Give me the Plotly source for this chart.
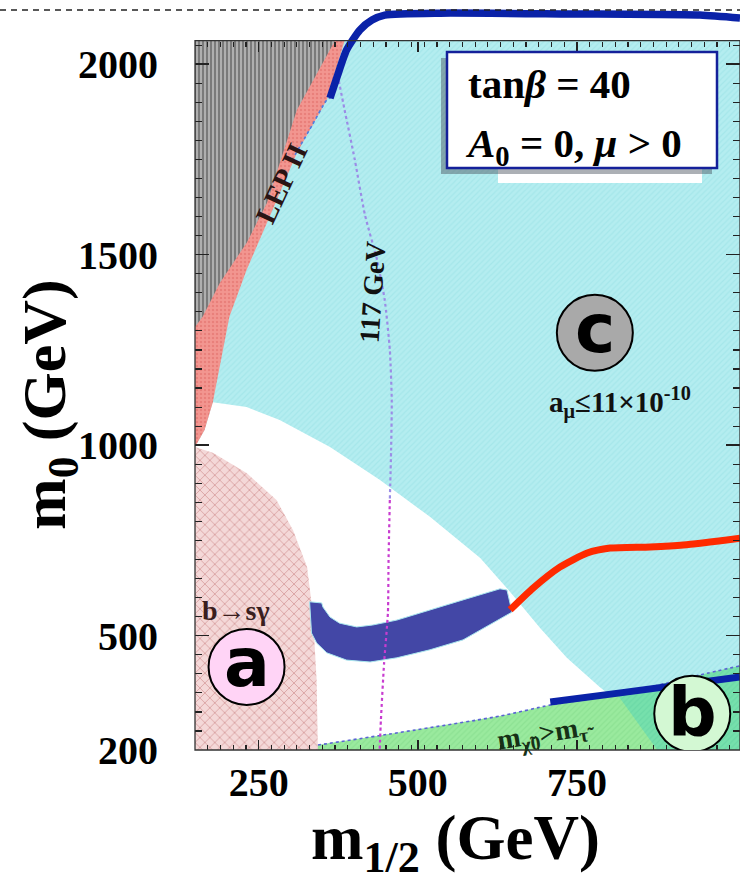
import plotly.graph_objects as go

# ---------------- data (m1/2 , m0 in GeV) ----------------
frame_m12 = [150, 1006]
frame_m0 = [200, 2062]

lep_edge_m12 = [385, 357, 310, 267, 231, 204, 184, 178, 165, 150]
lep_edge_m0 = [2062, 1906, 1767, 1599, 1460, 1337, 1171, 1113, 1040, 995]

ewsb_edge_m12 = [370, 310, 263, 231, 189, 162, 150]
ewsb_edge_m0 = [2062, 1880, 1636, 1531, 1426, 1337, 1310]

amu_edge_m12 = [178, 231, 283, 362, 440, 519, 598, 649, 692, 734, 786, 802]
amu_edge_m0 = [1113, 1100, 1066, 995, 909, 812, 704, 607, 520, 442, 365, 344]

stau_edge_m12 = [343, 456, 629, 708, 818, 943, 1006]
stau_edge_m0 = [213, 242, 289, 318, 347, 397, 421]

overlap_edge_m12 = [813, 876]
overlap_edge_m0 = [346, 200]

bsg_edge_m12 = [150, 178, 231, 278, 304, 326, 335, 341, 343]
bsg_edge_m0 = [995, 980, 927, 856, 777, 680, 560, 384, 200]

wmap_m12 = [330, 333, 341, 357, 388, 425, 467, 519, 571, 648, 640, 629, 571, 519, 467, 429, 404, 377, 362, 351, 349]
wmap_m0 = [589, 507, 481, 455, 436, 431, 442, 463, 489, 562, 620, 623, 594, 568, 541, 528, 523, 533, 549, 575, 586]

funnel_m12 = [645, 681, 723, 766, 802, 865, 917, 1006]
funnel_m0 = [568, 625, 680, 717, 730, 733, 738, 756]

focus_m12 = [362, 373, 388, 409, 428, 448, 535, 739, 943, 1006]
focus_m0 = [1911, 1966, 2037, 2090, 2116, 2129, 2134, 2132, 2129, 2121]

coann_m12 = [708, 818, 1006]
coann_m0 = [326, 350, 392]

higgs_m12 = [374, 385, 401, 417, 436, 448, 456, 459, 458, 456, 454, 453, 447, 442, 440]
higgs_m0 = [1972, 1880, 1749, 1604, 1486, 1381, 1250, 1119, 987, 856, 699, 560, 428, 279, 200]
higgs_split = 9

lepdot_m12 = [307, 334, 357, 365]
lepdot_m0 = [1762, 1840, 1906, 1914]

x_ticks = [250, 500, 750]
y_ticks = [200, 500, 1000, 1500, 2000]

# ---------------- figure ----------------
fig = go.Figure()
x0, x1 = frame_m12
y0, y1 = frame_m0


def poly(xs, ys, color, pattern=None, line=None):
    kw = dict(x=xs, y=ys, mode="lines", fill="toself", fillcolor=color,
              line=line or dict(width=0, color=color), hoverinfo="skip",
              showlegend=False)
    if pattern:
        kw["fillpattern"] = pattern
    fig.add_trace(go.Scatter(**kw))


# cyan a_mu allowed region (whole frame)
poly([x0, x1, x1, x0, x0], [y0, y0, y1, y1, y0], "#b4edf0",
     dict(shape="/", bgcolor="#b4edf0", fgcolor="#96dfe3", size=4, solidity=0.3))

# white region: below the a_mu edge, above the stau edge
wx = amu_edge_m12 + stau_edge_m12[3::-1] + [stau_edge_m12[0], x0] + lep_edge_m12[-1:-4:-1]
wy = amu_edge_m0 + stau_edge_m0[3::-1] + [y0, y0] + lep_edge_m0[-1:-4:-1]
poly(wx, wy, "#ffffff")

# LEP II region
poly([x0] + lep_edge_m12 + [x0], [y1] + lep_edge_m0 + [y1], "#f08a84",
     dict(shape=".", bgcolor="#f29690", fgcolor="#e06a66", size=4, solidity=0.3))

# gray (no EWSB) region
poly([x0] + ewsb_edge_m12 + [x0], [y1] + ewsb_edge_m0 + [y1], "#9a9a9a",
     dict(shape="|", bgcolor="#7a7a7a", fgcolor="#f0f0f0", size=4, solidity=0.45))

# b -> s gamma excluded region
poly(bsg_edge_m12 + [x0], bsg_edge_m0 + [y0], "#f4dada",
     dict(shape="x", bgcolor="#f4d8d8", fgcolor="#b04f4f", size=7, solidity=0.2))

# stau LSP region
poly([stau_edge_m12[0]] + stau_edge_m12 + [x1], [y0] + stau_edge_m0 + [y0], "#98e89c",
     dict(shape="/", bgcolor="#9aea9e", fgcolor="#7fd888", size=4, solidity=0.3))
poly(overlap_edge_m12[:1] + stau_edge_m12[5:] + [x1, overlap_edge_m12[1]],
     overlap_edge_m0[:1] + stau_edge_m0[5:] + [y0, overlap_edge_m0[1]], "#74dfae",
     dict(shape="/", bgcolor="#76e0ac", fgcolor="#5fd0a0", size=4, solidity=0.3))

# WMAP band
poly(wmap_m12 + wmap_m12[:1], wmap_m0 + wmap_m0[:1], "#4347a6",
     line=dict(width=1, color="#a9e6ee"))


def line(xs, ys, color, width, dash="solid"):
    fig.add_trace(go.Scatter(x=xs, y=ys, mode="lines", hoverinfo="skip", showlegend=False,
                             line=dict(color=color, width=width, dash=dash,
                                       shape="spline", smoothing=0.6)))


line(stau_edge_m12, stau_edge_m0, "#5b62d4", 1.6, "dot")
line(lepdot_m12, lepdot_m0, "#4d7ee0", 1.6, "dot")
line(higgs_m12[:higgs_split + 1], higgs_m0[:higgs_split + 1], "#9b8ce6", 2.2, "dot")
line(higgs_m12[higgs_split:], higgs_m0[higgs_split:], "#c83cd0", 2.2, "dot")
line(funnel_m12, funnel_m0, "#ff2a00", 7)
line(coann_m12, coann_m0, "#0a22a8", 7)
line(focus_m12, focus_m0, "#0a22a8", 7.5)

# dummy trace for the top tick axis
fig.add_trace(go.Scatter(x=[x0], y=[y0], xaxis="x2", mode="markers",
                         marker=dict(opacity=0), hoverinfo="skip", showlegend=False))

# ---------------- shapes ----------------
PL, PW, PH = 195, 545, 750


def px(xp):
    return (xp - PL) / PW


def py(yp):
    return (PH - yp) / PH


shapes = []
# top dashed line
shapes.append(dict(type="line", xref="paper", yref="paper", x0=px(0), x1=px(740),
                   y0=py(10), y1=py(10), line=dict(color="#222", width=1.5, dash="6px,5px")))
# frame
shapes.append(dict(type="rect", xref="paper", yref="paper", x0=0, x1=1, y0=0, y1=py(40.7),
                   line=dict(color="#333", width=1.3), layer="above"))
# info box shadow, strip, box
shapes.append(dict(type="rect", xref="paper", yref="paper", x0=px(498), x1=px(702),
                   y0=py(183), y1=py(166), fillcolor="#ffffff", line=dict(width=0)))
shapes.append(dict(type="rect", xref="paper", yref="paper", x0=px(441), x1=px(712),
                   y0=py(174), y1=py(58), fillcolor="rgba(70,80,90,0.45)", line=dict(width=0)))
shapes.append(dict(type="rect", xref="paper", yref="paper", x0=px(447), x1=px(717),
                   y0=py(168), y1=py(52), fillcolor="#ffffff",
                   line=dict(color="#14209a", width=2.5)))

circles = [("a", 231, 418, "#ffd4f6", 4), ("b", 931, 295, "#d3f8d3", 1), ("c", 778, 1295, "#a9a9a9", 4)]
for lab, cx, cy, col, ys in circles:
    shapes.append(dict(type="circle", xref="x", yref="y", xsizemode="pixel", ysizemode="pixel",
                       xanchor=cx, yanchor=cy, x0=-38, x1=38, y0=-38, y1=38,
                       fillcolor=col, line=dict(color="#000", width=2)))

# ---------------- annotations ----------------
serif = "Liberation Serif"
ann = []
for lab, cx, cy, col, ys in circles:
    ann.append(dict(x=cx, y=cy, xref="x", yref="y", text=lab, showarrow=False, yshift=ys,
                    font=dict(family="DejaVu Sans", size=68, color="#000", weight="bold")))

ann.append(dict(x=px(466), y=py(84), xref="paper", yref="paper", xanchor="left", yanchor="middle",
                text="tan<i>β</i> = 40", showarrow=False,
                font=dict(family=serif, size=41, color="#000", weight="bold")))
ann.append(dict(x=px(463), y=py(146), xref="paper", yref="paper", xanchor="left", yanchor="middle",
                text="<i>A</i><sub>0</sub> = 0, <i>μ</i> > 0", showarrow=False,
                font=dict(family=serif, size=41, color="#000", weight="bold")))

ann.append(dict(x=286, y=1688, xref="x", yref="y", text="LEP II", textangle=-65, showarrow=False,
                font=dict(family=serif, size=29, color="#2a1414", weight="bold")))
ann.append(dict(x=428, y=1402, xref="x", yref="y", text="117 GeV", textangle=-86, showarrow=False,
                font=dict(family=serif, size=28, color="#111", weight="bold")))
ann.append(dict(x=818, y=1111, xref="x", yref="y", text="a<sub>μ</sub>≤11×10<sup>-10</sup>",
                showarrow=False, font=dict(family=serif, size=29, color="#111", weight="bold")))
ann.append(dict(x=215, y=566, xref="x", yref="y", text="b→sγ", showarrow=False,
                font=dict(family=serif, size=28, color="#3a1e1e", weight="bold")))
ann.append(dict(x=701, y=242, xref="x", yref="y", text="m<sub>χ̃0</sub>>m<sub>τ̃</sub>",
                textangle=-9, showarrow=False,
                font=dict(family=serif, size=28, color="#163016", weight="bold")))

# axis titles
ann.append(dict(x=px(455), y=py(842), xref="paper", yref="paper", text="m<sub>1/2</sub> (GeV)",
                showarrow=False, xanchor="center", yanchor="middle",
                font=dict(family=serif, size=63, color="#000", weight="bold")))
ann.append(dict(x=px(48), y=py(405), xref="paper", yref="paper", text="m<sub>0</sub> (GeV)",
                showarrow=False, textangle=-90, xanchor="center", yanchor="middle",
                font=dict(family=serif, size=62, color="#000", weight="bold")))

tickfont = dict(family=serif, size=40, color="#000", weight="bold")
minor_x = dict(ticks="inside", ticklen=5, tickcolor="#222", tickwidth=1.2,
               tickvals=list(range(170, 1001, 20)))
fig.update_layout(
    width=740, height=882,
    margin=dict(l=PL, r=0, t=0, b=132, autoexpand=False),
    paper_bgcolor="#ffffff", plot_bgcolor="#ffffff",
    hovermode=False, showlegend=False,
    xaxis=dict(range=[x0, x1], tickvals=x_ticks, ticktext=[str(v) for v in x_ticks],
               ticks="inside", ticklen=10, tickwidth=1.5, tickcolor="#222",
               tickfont=tickfont, ticklabelstandoff=5, automargin=False,
               showgrid=False, zeroline=False, showline=False, minor=minor_x),
    xaxis2=dict(range=[x0, x1], overlaying="x", anchor="free", position=py(40.7), side="top",
                tickvals=x_ticks, ticks="inside", ticklen=10, tickwidth=1.5, tickcolor="#222",
                showticklabels=False, showgrid=False, zeroline=False, showline=False,
                automargin=False, minor=minor_x),
    yaxis=dict(range=[200, 200 + PH * 2.6247], tickvals=y_ticks, ticktext=[str(v) for v in y_ticks],
               ticks="inside", ticklen=14, tickwidth=1.5, tickcolor="#222", mirror="ticks",
               tickfont=tickfont, ticklabelstandoff=36, automargin=False,
               showgrid=False, zeroline=False, showline=False,
               minor=dict(ticks="inside", ticklen=7, tickcolor="#222", tickwidth=1.2,
                          tickvals=list(range(250, 2051, 50)))),
    shapes=shapes, annotations=ann,
)

fig.write_html("out.html", config={"displayModeBar": False, "staticPlot": True},
               post_script="document.body.style.margin='0';document.body.style.overflow='hidden';")
